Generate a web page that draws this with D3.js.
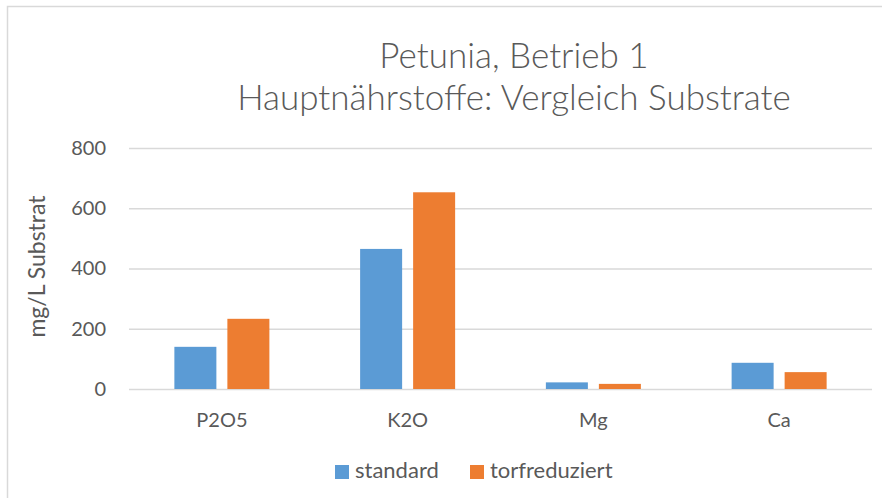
<!DOCTYPE html>
<html>
<head>
<meta charset="utf-8">
<script src="https://cdn.jsdelivr.net/npm/d3@7"></script>
<style>
  body { margin: 0; background: #fff; }
  svg { display: block; font-family: Lato, "Open Sans", sans-serif; }
  text { fill: #595959; }
</style>
</head>
<body>
<svg id="chart" width="882" height="498"></svg>
<script>
const categories = ["P2O5", "K2O", "Mg", "Ca"];
const seriesNames = ["standard", "torfreduziert"];
const standardValues = [140, 465, 22, 87];
const torfreduziertValues = [233, 653, 17, 56];
const yTickValues = [0, 200, 400, 600, 800];
const titleLines = ["Petunia, Betrieb 1", "Hauptnährstoffe: Vergleich Substrate"];
const yLabel = "mg/L Substrat";

const colors = { standard: "#5B9BD5", torfreduziert: "#ED7D31" };

const data = categories.map((c, i) => ({
    category: c,
    values: [
        { key: "standard", value: standardValues[i] },
        { key: "torfreduziert", value: torfreduziertValues[i] }
    ]
}));

const svg = d3.select("#chart");
const width = 882;
const height = 498;

const plot = { left: 129, right: 872, top: 148, bottom: 389 };

svg.append("rect")
    .attr("width", width)
    .attr("height", height)
    .attr("fill", "#fff");

// chart border (only left and top visible in the crop)
svg.append("rect")
    .attr("x", 7.5)
    .attr("y", 6.5)
    .attr("width", 900)
    .attr("height", 520)
    .attr("fill", "none")
    .attr("stroke", "#D9D9D9")
    .attr("stroke-width", 1.5);

const xScale = d3.scaleBand()
    .domain(categories)
    .range([plot.left, plot.right])
    .padding(0);

const xInner = d3.scaleBand()
    .domain(seriesNames)
    .range([0, xScale.bandwidth()])
    .paddingInner(11 / 53)
    .paddingOuter(0.856);

const yScale = d3.scaleLinear()
    .domain([0, 800])
    .range([plot.bottom, plot.top]);

// gridlines + y tick labels
const yAxis = d3.axisLeft(yScale)
    .tickValues(yTickValues)
    .tickSize(-(plot.right - plot.left))
    .tickPadding(23);

const yAxisG = svg.append("g")
    .attr("transform", `translate(${plot.left},0)`)
    .call(yAxis);

yAxisG.select(".domain").remove();
yAxisG.selectAll(".tick line")
    .attr("stroke", "#D9D9D9")
    .attr("stroke-width", 1.3);
yAxisG.selectAll(".tick text")
    .attr("fill", "#595959")
    .style("font-family", "Lato, sans-serif")
    .style("font-size", "20px");

// bars
const groups = svg.append("g")
    .selectAll("g")
    .data(data)
    .enter().append("g")
    .attr("transform", d => `translate(${xScale(d.category)},0)`);

groups.selectAll("rect")
    .data(d => d.values)
    .enter().append("rect")
    .attr("x", d => xInner(d.key))
    .attr("width", xInner.bandwidth())
    .attr("y", d => yScale(d.value))
    .attr("height", d => yScale(0) - yScale(d.value))
    .attr("fill", d => colors[d.key]);

// x labels
const xAxis = d3.axisBottom(xScale)
    .tickSize(0)
    .tickPadding(24);

const xAxisG = svg.append("g")
    .attr("transform", `translate(0,${plot.bottom})`)
    .call(xAxis);

xAxisG.select(".domain").remove();
xAxisG.selectAll(".tick text")
    .attr("fill", "#595959")
    .style("font-family", "Lato, sans-serif")
    .style("font-size", "20px");

// y label
svg.append("text")
    .attr("transform", `translate(45,${(plot.top + plot.bottom) / 2 - 2}) rotate(-90)`)
    .attr("text-anchor", "middle")
    .style("font-size", "23px")
    .text(yLabel);

// title
svg.selectAll(".title")
    .data(titleLines)
    .enter().append("text")
    .attr("class", "title")
    .attr("x", 514)
    .attr("y", (d, i) => 68 + i * 42)
    .attr("text-anchor", "middle")
    .style("font-size", "35px")
    .style("font-weight", 300)
    .text(d => d);

// legend
const legendX = [335, 470];
const legend = svg.append("g")
    .selectAll("g")
    .data(seriesNames)
    .enter().append("g")
    .attr("transform", (d, i) => `translate(${legendX[i]},465)`);

legend.append("rect")
    .attr("width", 14)
    .attr("height", 14)
    .attr("fill", d => colors[d]);

legend.append("text")
    .attr("x", 20)
    .attr("y", 13)
    .style("font-size", "22px")
    .text(d => d);
</script>
</body>
</html>
